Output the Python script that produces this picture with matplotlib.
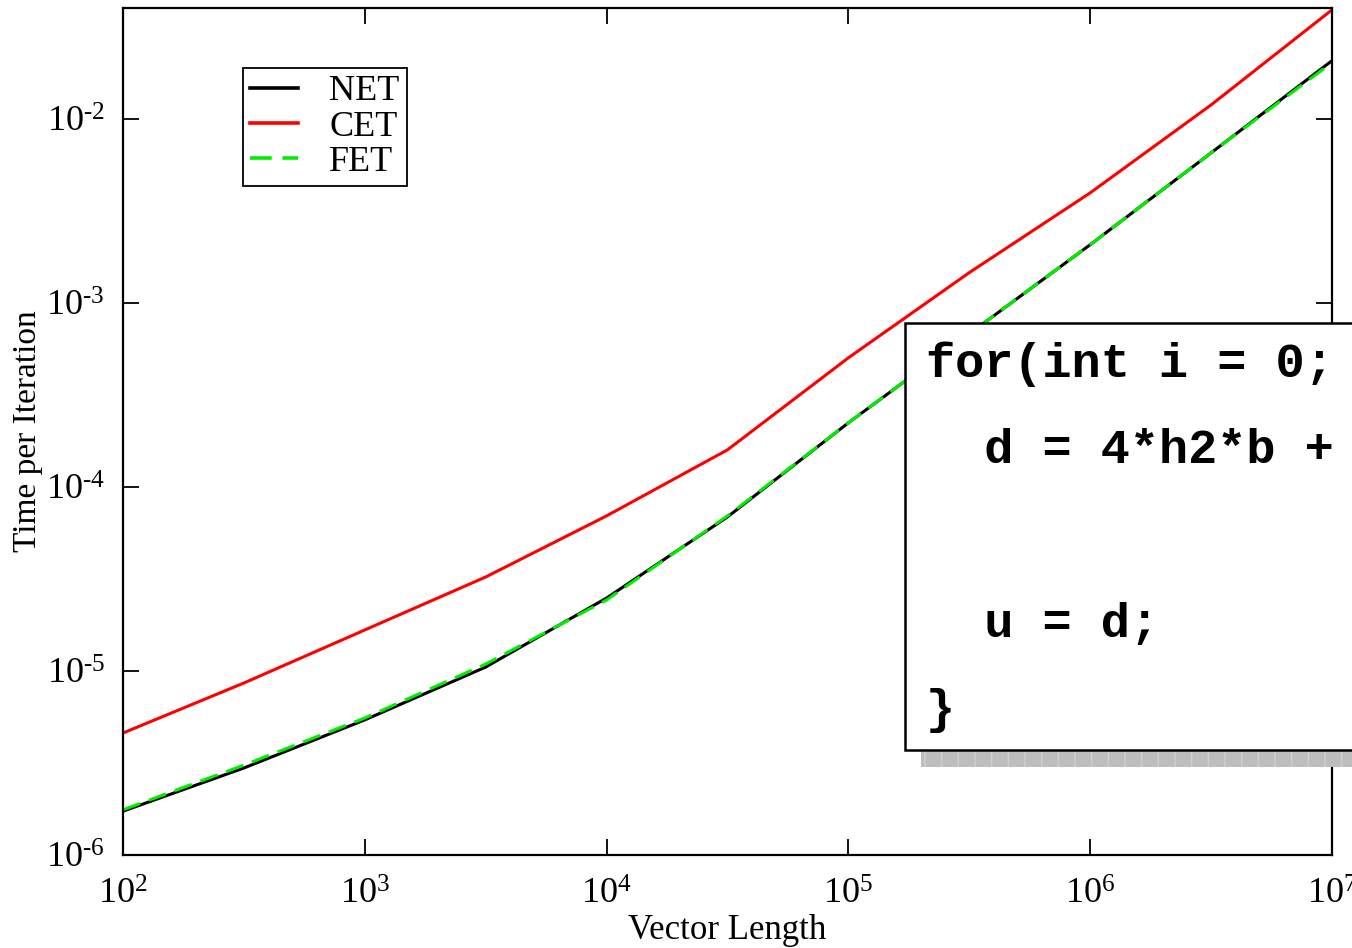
import matplotlib
matplotlib.use("Agg")
import matplotlib.pyplot as plt
from matplotlib.patches import Rectangle
from matplotlib.ticker import FixedLocator, NullLocator

# ---- data ----
vector_length = [1e2, 3.162e2, 1e3, 3.162e3, 1e4, 3.162e4, 1e5, 3.162e5, 1e6, 3.162e6, 1e7]
net = [1.73e-6, 2.97e-6, 5.42e-6, 1.05e-5, 2.49e-5, 6.87e-5, 2.23e-4, 6.79e-4, 2.07e-3, 6.53e-3, 2.07e-2]
cet = [4.60e-6, 8.6e-6, 1.67e-5, 3.24e-5, 6.96e-5, 1.59e-4, 5.03e-4, 1.46e-3, 3.96e-3, 1.19e-2, 3.91e-2]
fet = [1.76e-6, 3.08e-6, 5.55e-6, 1.09e-5, 2.43e-5, 6.96e-5, 2.23e-4, 6.79e-4, 2.07e-3, 6.53e-3, 2.02e-2]
series_names = ["NET", "CET", "FET"]
x_ticks = [1e2, 1e3, 1e4, 1e5, 1e6, 1e7]
x_tick_labels = [r"$\mathregular{10^{2}}$", r"$\mathregular{10^{3}}$", r"$\mathregular{10^{4}}$",
                 r"$\mathregular{10^{5}}$", r"$\mathregular{10^{6}}$", r"$\mathregular{10^{7}}$"]
y_ticks = [1e-6, 1e-5, 1e-4, 1e-3, 1e-2]
y_tick_labels = [r"$\mathregular{10^{\text{-}6}}$", r"$\mathregular{10^{\text{-}5}}$",
                 r"$\mathregular{10^{\text{-}4}}$", r"$\mathregular{10^{\text{-}3}}$",
                 r"$\mathregular{10^{\text{-}2}}$"]
code_lines = ["for(int i = 0;", "  d = 4*h2*b +", "", "  u = d;", "}"]

plt.rcParams['font.family'] = ['Liberation Serif', 'DejaVu Serif']
plt.rcParams['mathtext.fontset'] = 'custom'
plt.rcParams['mathtext.rm'] = 'Liberation Serif'

W, H = 1352, 948
fig = plt.figure(figsize=(W / 100, H / 100), dpi=100)
ax = fig.add_axes([123 / W, 1 - 855 / H, (1332 - 123) / W, (855 - 8) / H])

lw = 2.2
ax.plot(vector_length, net, color='black', lw=lw, label=series_names[0])
ax.plot(vector_length, cet, color='#ff0000', lw=lw, label=series_names[1])
ax.plot(vector_length, fet, color='#00ee00', lw=lw, dashes=(6, 3), label=series_names[2])

ax.set_xscale('log')
ax.set_yscale('log')
ax.set_xlim(1e2, 1e7)
ax.set_ylim(1e-6, 4.0e-2)

ax.xaxis.set_major_locator(FixedLocator(x_ticks))
ax.yaxis.set_major_locator(FixedLocator(y_ticks))
ax.xaxis.set_minor_locator(NullLocator())
ax.yaxis.set_minor_locator(NullLocator())
ax.set_xticklabels(x_tick_labels)
ax.set_yticklabels(y_tick_labels)
ax.tick_params(which='major', direction='in', length=11.5, width=1.3,
               top=True, right=True, labelsize=26)
ax.tick_params(axis='x', pad=17)
ax.tick_params(axis='y', pad=13)
for s in ax.spines.values():
    s.set_linewidth(1.6)

ax.set_xlabel("Vector Length", fontsize=25, labelpad=2)
ax.set_ylabel("Time per Iteration", fontsize=24, labelpad=2)

leg = ax.legend(loc='upper left', bbox_to_anchor=(243 / W, 1 - 68 / H),
                bbox_transform=fig.transFigure, borderaxespad=0,
                fontsize=26, frameon=True, fancybox=False, framealpha=1,
                edgecolor='black', handlelength=1.33, handletextpad=0.86,
                labelspacing=0.05, borderpad=0.2)
leg.get_frame().set_linewidth(1.3)
for h in leg.get_lines():
    h.set_linewidth(2.6)

# ---- code inset box (extends past the right edge) ----
shadow = Rectangle((921 / W, 1 - 767 / H), (1600 - 921) / W, 17 / H,
                   transform=fig.transFigure, facecolor='#bdbdbd',
                   edgecolor='#d0d0d0', linewidth=0, hatch='|', zorder=5)
fig.add_artist(shadow)
box = Rectangle((905 / W, 1 - 750 / H), (1600 - 905) / W, (750 - 323) / H,
                transform=fig.transFigure, facecolor='white',
                edgecolor='black', linewidth=1.8, zorder=6)
fig.add_artist(box)
baselines = [377, 463, 550, 637, 723]
for line, yb in zip(code_lines, baselines):
    if line:
        fig.text(926 / W, 1 - yb / H, line, fontsize=35, fontweight='bold',
                 family=['Liberation Mono', 'DejaVu Sans Mono'],
                 va='baseline', ha='left', zorder=7)

fig.savefig("out.png", dpi=100)
